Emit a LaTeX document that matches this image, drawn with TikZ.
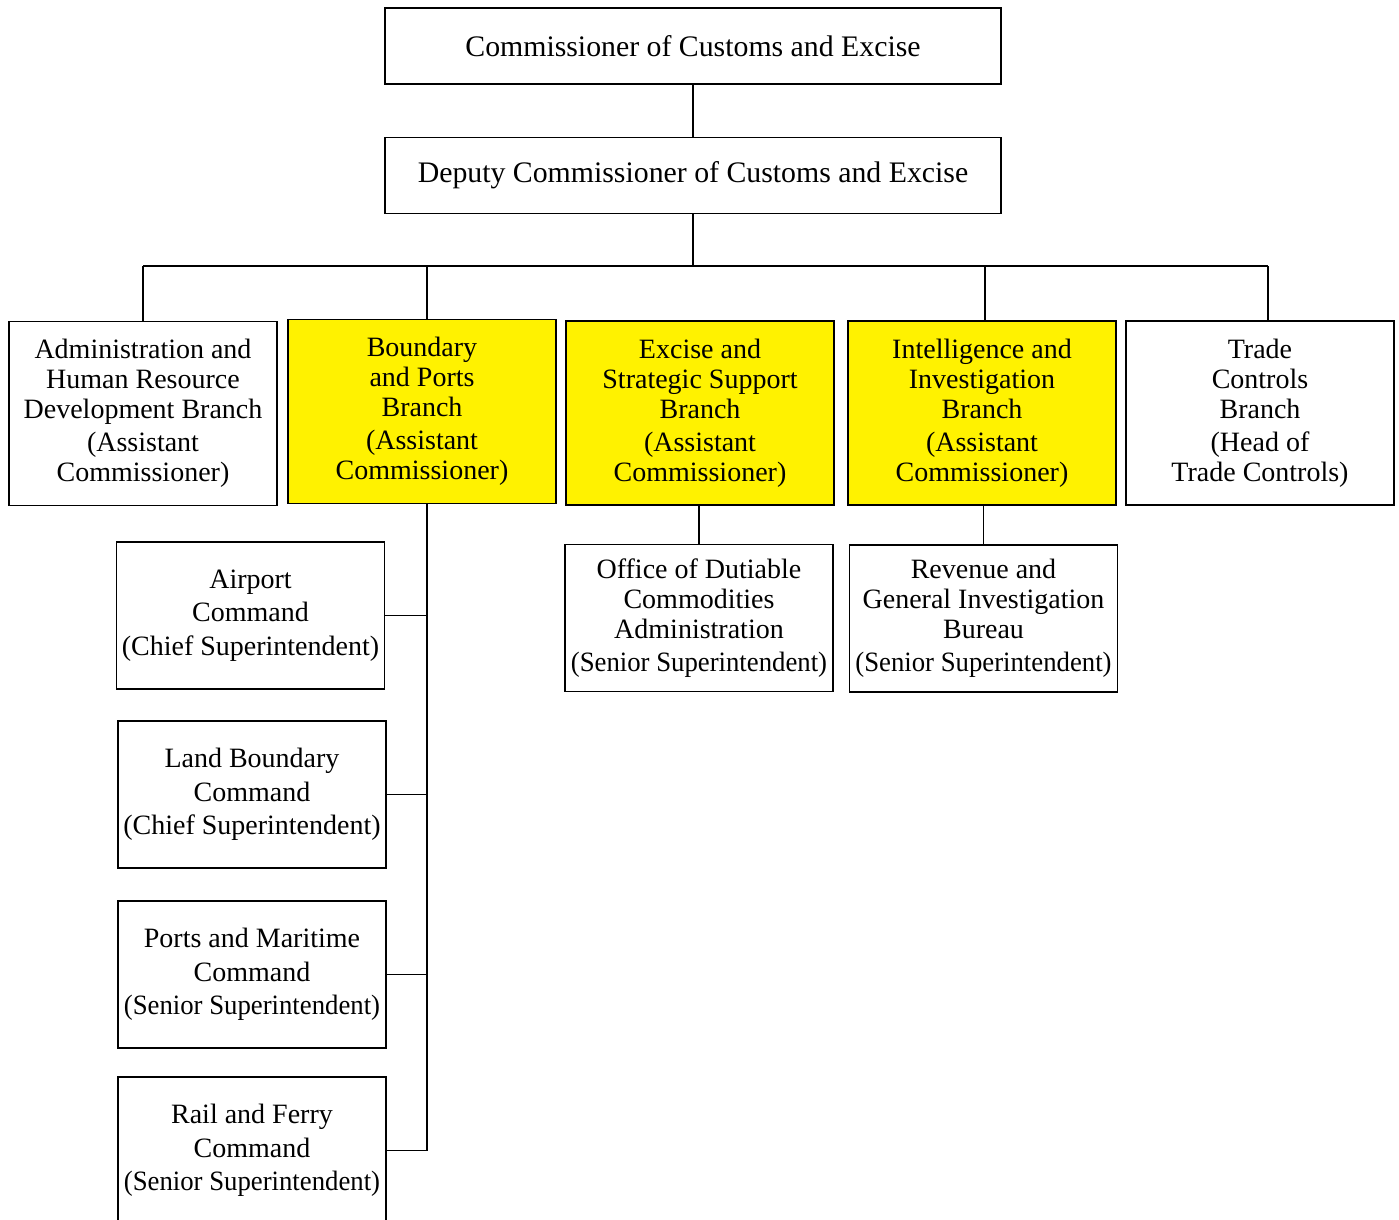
\documentclass[tikz,border=0pt]{standalone}
\usepackage{fontspec}
\setmainfont{Liberation Serif}
\newfontfamily\narrowfont[FakeStretch=0.955]{Liberation Serif}
\newcommand{\snr}{{\narrowfont(Senior Superintendent)}}
\begin{document}
\begin{tikzpicture}[x=0.5pt,y=-0.5pt,line width=0.9pt,
  font=\fontsize{14.9}{15}\selectfont,
  box/.style={draw,align=center,inner sep=0pt},
  head/.style={box,minimum width=308pt,minimum height=38pt},
  branch/.style={box,minimum width=134pt,minimum height=92pt,
    font=\fontsize{14}{15}\selectfont},
  hilite/.style={branch,fill=yellow},
  unit/.style={box,minimum width=134pt,minimum height=73.5pt,
    font=\fontsize{14}{16.8}\selectfont}]
\useasboundingbox (0,0) rectangle (1399,1220);

% top of the chart
\node[head] (comm) at (693,46) {Commissioner of Customs and Excise};
\node[head] (dep) at (693,175.5) {Deputy Commissioner of Customs and Excise};
\draw (comm.south) -- (dep.north);

% branches
\coordinate (bus) at (0,266);
\node[branch] (adm) at (143,413.5) {Administration and\\Human Resource\\Development Branch\\[1.5pt](Assistant\\Commissioner)};
\node[hilite] (bnd) at (422,411.5) {Boundary\\and Ports\\Branch\\[1.5pt](Assistant\\Commissioner)};
\node[hilite] (exc) at (700,413) {Excise and\\Strategic Support\\Branch\\[1.5pt](Assistant\\Commissioner)};
\node[hilite] (itl) at (982,413) {Intelligence and\\Investigation\\Branch\\[1.5pt](Assistant\\Commissioner)};
\node[branch] (trd) at (1260,413) {Trade\\Controls\\Branch\\[1.5pt](Head of\\Trade Controls)};

\coordinate (spine) at (427,0);
\draw (dep.south) -- (dep.south |- bus);
\draw (adm.north |- bus) -- ([xshift=4pt]trd.north |- bus);
\draw (adm.north) -- (adm.north |- bus);
\draw (spine |- bnd.north) -- (spine |- bus);
\draw ([xshift=1.5pt]itl.north) -- ([xshift=1.5pt]itl.north |- bus);
\draw ([xshift=4pt]trd.north) -- ([xshift=4pt]trd.north |- bus);

% commands under boundary and ports
\node[unit] (air) at (250.5,615.5) {Airport\\Command\\(Chief Superintendent)};
\node[unit] (lnd) at (252,794.5) {Land Boundary\\Command\\(Chief Superintendent)};
\node[unit] (prt) at (252,974.5) {Ports and Maritime\\Command\\\snr};
\node[unit] (ral) at (252,1150.5) {Rail and Ferry\\Command\\\snr};

\draw (spine |- bnd.south) -- (spine |- ral.east);
\foreach \u in {air,lnd,prt,ral}{%
\draw (\u.east) -- (\u.east -| spine);
}

% bureaux
\node[unit,font=\fontsize{14}{15}\selectfont] (off) at (699,618) {Office of Dutiable\\Commodities\\Administration\\[1.5pt]\snr};
\node[unit,font=\fontsize{14}{15}\selectfont] (rev) at (983.5,618.5) {Revenue and\\General Investigation\\Bureau\\[1.5pt]\snr};
\draw (off.north |- exc.south) -- (off.north);
\draw (rev.north |- itl.south) -- (rev.north);

\end{tikzpicture}
\end{document}
